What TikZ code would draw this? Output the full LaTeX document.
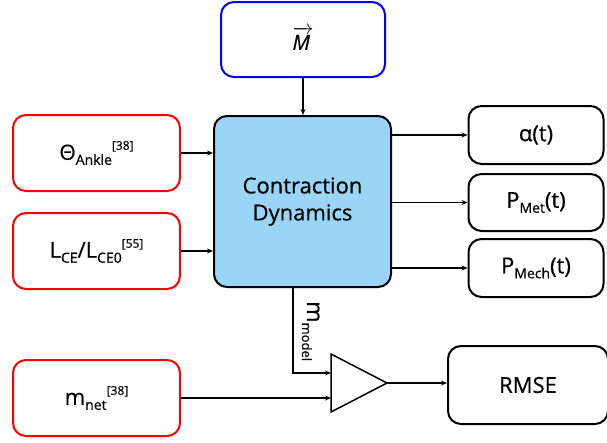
\documentclass[tikz,border=0pt]{standalone}
\usepackage{amsmath}
\usepackage{fontspec}
\setmainfont{Open Sans}[FakeBold=0.5]
\usetikzlibrary{arrows.meta,calc}
\definecolor{cdblue}{RGB}{153,214,245}
\newcommand\sbx[1]{\raisebox{-5pt}{\fontsize{14}{14}\selectfont #1}}
\newcommand\spx[1]{\raisebox{10pt}{\fontsize{12}{12}\selectfont #1}}
\tikzset{
  box/.style={draw, line width=2pt, rounded corners=13pt, align=center, inner sep=0pt,
    font=\fontsize{22}{27}\selectfont},
  redbox/.style={box, draw=red},
  bluebox/.style={box, draw=blue},
  blackbox/.style={box, draw=black},
  arr/.style={line width=1.5pt, -{Stealth[length=6pt,width=5pt]}},
}
\begin{document}
\begin{tikzpicture}[x=1pt,y=-1pt]
\useasboundingbox (0,0) rectangle (607,442);
% nodes
\node[bluebox, minimum width=164pt, minimum height=75pt] (M) at (303,39.5) {\raisebox{2pt}{$\overrightarrow{\text{\fontsize{21}{21}\selectfont\itshape M\,}}$}};
\node[redbox, minimum width=167pt, minimum height=76pt] (theta) at (96.5,153) {\fontsize{21}{21}\selectfont Θ\sbx{Ankle}\spx{[38]}};
\node[redbox, minimum width=167pt, minimum height=76pt] (lce) at (96.5,251) {L\sbx{CE}/L\sbx{CE0}\spx{[55]}};
\node[redbox, minimum width=167pt, minimum height=76pt] (mnet) at (96.5,398) {m\sbx{net}\spx{[38]}};
\node[blackbox, fill=cdblue, minimum width=177pt, minimum height=171pt] (CD) at (302.5,201.5) {Contraction\\Dynamics};
\node[blackbox, minimum width=135pt, minimum height=58pt] (alpha) at (536,135) {α(t)};
\node[blackbox, minimum width=135pt, minimum height=57pt] (pmet) at (536,202.5) {P\sbx{Met}(t)};
\node[blackbox, minimum width=135pt, minimum height=58pt] (pmech) at (536,268) {P\sbx{Mech}(t)};
\node[blackbox, minimum width=160pt, minimum height=78pt] (rmse) at (528,385) {RMSE};
% triangle
\coordinate (tA) at (331,354);
\coordinate (tB) at (331,412);
\coordinate (tC) at (387,383);
\coordinate (in1) at (331,373);
\coordinate (in2) at (331,397);
\draw[line width=1.5pt, line join=miter] (tA) -- (tC) -- (tB) -- cycle;
% connectors
\draw[arr] (M.south) -- (M.south |- CD.north);
\draw[arr] (theta.east) -- (theta.east -| CD.west);
\draw[arr] (lce.east) -- (lce.east -| CD.west);
\draw[arr] (alpha.west -| CD.east) -- (alpha.west);
\draw[arr] (pmet.west -| CD.east) -- (pmet.west);
\draw[arr] (pmech.west -| CD.east) -- (pmech.west);
\coordinate (mtop) at ($(CD.south west)+(80,0)$);
\draw[arr] (mtop) |- (in1);
\draw[arr] (mnet.east) -- (mnet.east -| in2);
\draw[arr] (tC) -- (tC -| rmse.west);
\node[rotate=-90, anchor=base west, inner sep=0pt, font=\fontsize{23}{23}\selectfont] (mlabel) at (307,301) {m\raisebox{-5pt}{\fontsize{13}{13}\selectfont model}};
\end{tikzpicture}
\end{document}
